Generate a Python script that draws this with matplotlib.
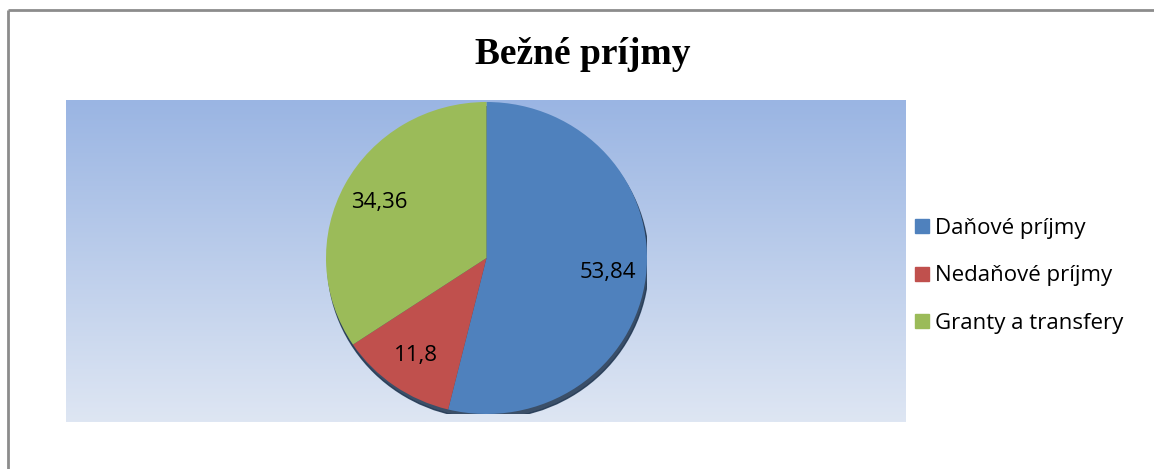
import numpy as np
import matplotlib
matplotlib.use("Agg")
import matplotlib.pyplot as plt
from matplotlib.patches import Ellipse
from matplotlib.lines import Line2D

title = "Bežné príjmy"
categories = ["Daňové príjmy", "Nedaňové príjmy", "Granty a transfery"]
values = [53.84, 11.8, 34.36]
colors = ["#4F81BD", "#C0504D", "#9BBB59"]

W, H = 1154, 469
fig = plt.figure(figsize=(W / 100, H / 100), dpi=100)

def px_axes(x0, y0, x1, y1, **kw):
    return fig.add_axes([x0 / W, 1 - y1 / H, (x1 - x0) / W, (y1 - y0) / H], **kw)

# outer frame (top and left edges visible)
frame = px_axes(0, 0, W, H)
frame.set_xlim(0, W); frame.set_ylim(H, 0); frame.axis("off")
frame.plot([8, W], [10, 10], color="#8c8c8c", lw=2, solid_capstyle="butt")
frame.plot([8, 8], [10, H], color="#8c8c8c", lw=2, solid_capstyle="butt")

# plot area gradient
bg = px_axes(66, 100, 906, 422)
grad = np.linspace(0, 1, 256)[:, None]
top = np.array([0x9A, 0xB5, 0xE3]) / 255
bot = np.array([0xDE, 0xE6, 0xF3]) / 255
img = top[None, None, :] * (1 - grad[..., None]) + bot[None, None, :] * grad[..., None]
bg.imshow(img, aspect="auto", extent=[0, 1, 0, 1], origin="upper")
bg.axis("off")

# title
fig.text(583 / W, 1 - 55 / H, title, ha="center", va="center",
         fontsize=27, fontweight="bold", family="Liberation Serif")

# pie
ax = px_axes(326, 102, 647, 414)
ax.add_patch(Ellipse((0.01, -0.03), 2.0, 2.0, color="#1f3550", alpha=0.85, zorder=0))
def fmt(p):
    return ("%g" % round(p, 2)).replace(".", ",")
wedges, texts, autotexts = ax.pie(values, colors=colors, startangle=90, counterclock=False,
                                  autopct=fmt, pctdistance=0.76, radius=1.0,
                                  wedgeprops=dict(linewidth=0),
                                  textprops=dict(fontsize=16, family="Open Sans", color="black"))
ax.set_aspect("auto")
ax.set_xlim(-1, 1); ax.set_ylim(-1, 1)
ax.axis("off")

# legend
handles = [Line2D([0], [0], marker="s", linestyle="none", markersize=10,
                  markerfacecolor=c, markeredgecolor=c) for c in colors]
fig.legend(handles, categories, loc="center left", bbox_to_anchor=(903 / W, 1 - 276 / H),
           frameon=False, prop=dict(family="Open Sans", size=16), handletextpad=0.1,
           labelspacing=1.18, handlelength=0.95, borderaxespad=0)

fig.savefig("out.png", dpi=100)
